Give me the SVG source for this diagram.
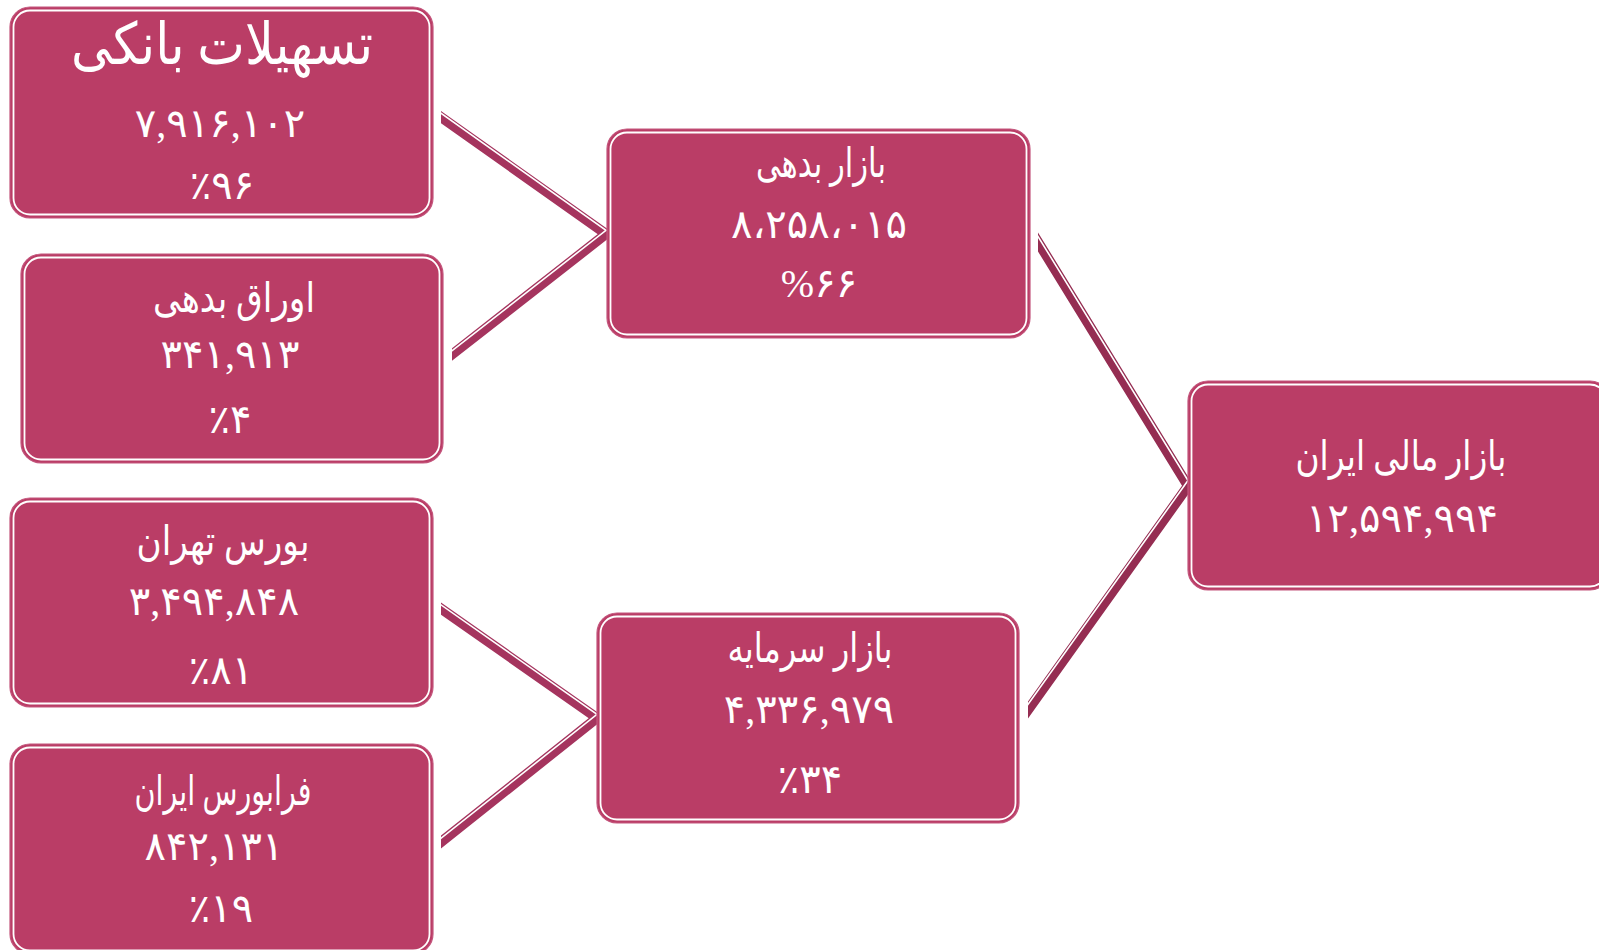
<svg xmlns="http://www.w3.org/2000/svg" width="1599" height="950" viewBox="0 0 1599 950">
<style>
.outer{fill:#ba3d66;stroke:#c4567d;stroke-width:1.2}
.inner{fill:none;stroke:#ffffff;stroke-width:1.8}
.t{fill:#ffffff;font-family:'Liberation Serif','DejaVu Sans',serif;text-anchor:middle}
.title{font-size:41px}
.big{font-size:58px}
.num{font-size:40px}
.dl{fill:none;stroke:#a5345e;stroke-width:10;stroke-linejoin:miter;stroke-miterlimit:10}
.dr{fill:none;stroke:#952d52;stroke-width:10;stroke-linejoin:miter;stroke-miterlimit:10}
.w{fill:none;stroke:#ffffff;stroke-width:1.6;stroke-linejoin:miter}
</style>
<defs>
<clipPath id="cTL"><polygon points="441,0 1200,0 1200,950 452,950 452,234 441,234"/></clipPath>
<clipPath id="cBL"><rect x="441" y="0" width="700" height="950"/></clipPath>
<clipPath id="cR"><polygon points="1038,0 1599,0 1599,950 1028,950 1028,486 1038,486"/></clipPath>
</defs>
<g id="connectors">
<g clip-path="url(#cTL)">
<polyline class="dl" points="432.8,111.2 606,234 444.1,360.7"/>
<polyline class="w" points="432.8,107.5 606,230.3 444.1,357"/>
</g>
<g clip-path="url(#cBL)">
<polyline class="dl" points="432.8,602.8 597,718 433.2,848.2"/>
<polyline class="w" points="432.8,599.1 597,714.3 433.2,844.5"/>
</g>
<g clip-path="url(#cR)">
<polyline class="dr" points="1032.8,233.5 1188,486 1022.2,718.1"/>
<polyline class="w" points="1032.8,228 1188,480.5 1022.2,712.6"/>
</g>
</g>
<g id="n1">
<rect class="outer" x="10" y="7" width="423" height="211" rx="20"/>
<rect class="inner" x="13.5" y="10.5" width="416" height="204" rx="16.5"/>
<text class="t big" x="222" y="64" textLength="302" lengthAdjust="spacingAndGlyphs">تسهیلات بانکی</text>
<text class="t num" x="220" y="137">۷,۹۱۶,۱۰۲</text>
<text class="t num" x="222" y="199">٪۹۶</text>
</g>
<g id="n2">
<rect class="outer" x="21" y="254" width="422" height="209" rx="20"/>
<rect class="inner" x="24.5" y="257.5" width="415" height="202" rx="16.5"/>
<text class="t title" x="234" y="312" textLength="162" lengthAdjust="spacingAndGlyphs">اوراق بدهی</text>
<text class="t num" x="230" y="368">۳۴۱,۹۱۳</text>
<text class="t num" x="230" y="433">٪۴</text>
</g>
<g id="n3">
<rect class="outer" x="10" y="498" width="423" height="209" rx="20"/>
<rect class="inner" x="13.5" y="501.5" width="416" height="202" rx="16.5"/>
<text class="t title" x="223" y="555" textLength="173" lengthAdjust="spacingAndGlyphs">بورس تهران</text>
<text class="t num" x="214" y="615">۳,۴۹۴,۸۴۸</text>
<text class="t num" x="221" y="684">٪۸۱</text>
</g>
<g id="n4">
<rect class="outer" x="10" y="744" width="423" height="210" rx="20"/>
<rect class="inner" x="13.5" y="747.5" width="416" height="203" rx="16.5"/>
<text class="t title" x="223" y="805" textLength="177" lengthAdjust="spacingAndGlyphs">فرابورس ایران</text>
<text class="t num" x="214" y="860">۸۴۲,۱۳۱</text>
<text class="t num" x="221" y="922">٪۱۹</text>
</g>
<g id="n5">
<rect class="outer" x="607" y="129" width="423" height="209" rx="20"/>
<rect class="inner" x="610.5" y="132.5" width="416" height="202" rx="16.5"/>
<text class="t title" x="821" y="177" textLength="130" lengthAdjust="spacingAndGlyphs">بازار بدهی</text>
<text class="t num" x="819" y="238">۸،۲۵۸،۰۱۵</text>
<text class="t num" x="819" y="297">%۶۶</text>
</g>
<g id="n6">
<rect class="outer" x="597" y="613" width="422" height="210" rx="20"/>
<rect class="inner" x="600.5" y="616.5" width="415" height="203" rx="16.5"/>
<text class="t title" x="810" y="662" textLength="165" lengthAdjust="spacingAndGlyphs">بازار سرمایه</text>
<text class="t num" x="809" y="723">۴,۳۳۶,۹۷۹</text>
<text class="t num" x="810" y="793">٪۳۴</text>
</g>
<g id="n7">
<rect class="outer" x="1188" y="381" width="422" height="209" rx="20"/>
<rect class="inner" x="1191.5" y="384.5" width="415" height="202" rx="16.5"/>
<text class="t title" x="1401" y="470" textLength="211" lengthAdjust="spacingAndGlyphs">بازار مالی ایران</text>
<text class="t num" x="1402" y="532">۱۲,۵۹۴,۹۹۴</text>
</g>
</svg>
